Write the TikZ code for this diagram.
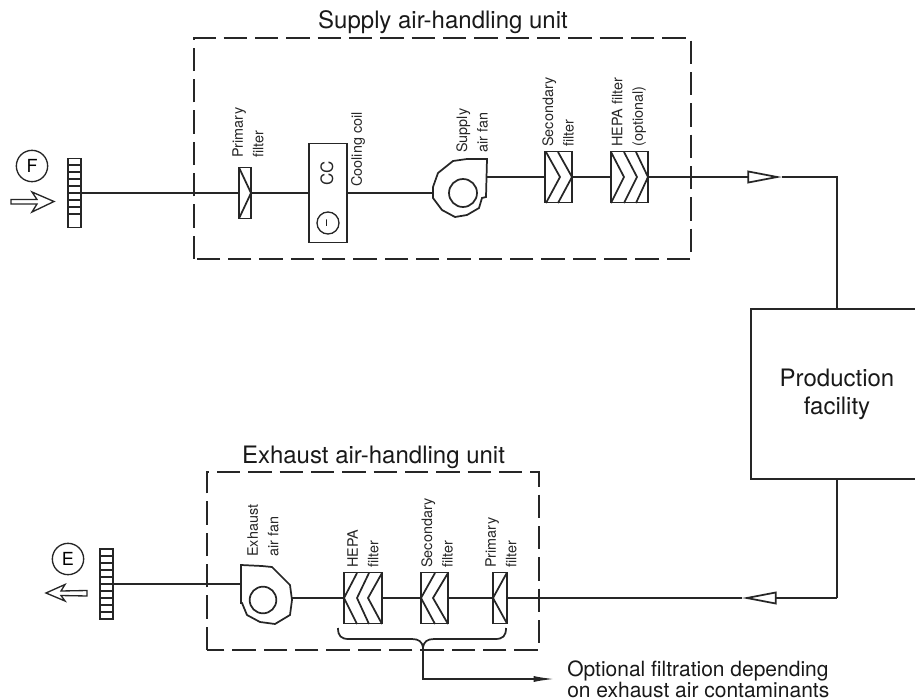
\documentclass[tikz,border=0pt]{standalone}
\usepackage{fontspec}
\setmainfont{TeX Gyre Heros}
\usetikzlibrary{arrows.meta}
\begin{document}
\begin{tikzpicture}[
    x=0.75pt,y=-0.75pt,
    ductLine/.style={draw=black!85,line width=1.3pt},
    ahuFrame/.style={rectangle,inner sep=0pt,outer sep=0pt},
    ahuLine/.style={draw=black!85,line width=1.2pt,dash pattern=on 17.5pt off 6pt},
    filterBox/.style={rectangle,draw=black!85,line width=1.4pt,inner sep=0pt,outer sep=0pt,minimum height=38.25pt},
    portCircle/.style={circle,draw=black!85,line width=1pt,inner sep=0pt,minimum size=23.5pt,font=\fontsize{13.5pt}{15pt}\selectfont},
    smallLabel/.style={rotate=90,anchor=west,align=left,inner sep=0pt,font=\fontsize{10.8pt}{15.4pt}\selectfont,text=black!85},
    bigLabel/.style={anchor=base,inner sep=0pt,font=\fontsize{18pt}{21pt}\selectfont,text=black!90},
    openTip/.style={-{Triangle[open,fill=white,length=26pt,width=9.5pt]}},
]
\useasboundingbox (0,0) rectangle (915,700);
% === supply (top) ===
\node[ahuFrame,minimum width=372.75pt,minimum height=165.75pt] (SAHU) at (442.5,148.5) {};
\draw[ahuLine] (SAHU.south west) -- (SAHU.north west) -- (SAHU.north east) -- (SAHU.south east) -- cycle;
\node[bigLabel] (STITLE) at (443,28) {Supply air-handling unit};
\node[portCircle] (F) at (32,166) {F};
\node[filterBox,minimum width=9.75pt,minimum height=51.75pt] (SGRILLE) at (74.5,193) {};
\foreach \y in {165,172,...,220} \draw[ductLine,line width=1.1pt] (68,\y) -- (82,\y);
\draw[ductLine,line width=1pt] (11,199.5) -- (37,199.5) -- (32,192) -- (54,201.5) -- (32,212) -- (37,204) -- (11,204) -- cycle;
\node[filterBox,minimum width=9pt] (SPF) at (245,193) {};
\draw[ductLine] (SPF.north west) -- (SPF.east) -- (SPF.south west);
\node[smallLabel] (SPFL) at (248,158) {Primary\\filter};
\node[filterBox,minimum width=28.5pt,minimum height=74.25pt] (SCC) at (328,193) {};
\node[rotate=90,inner sep=0pt,font=\fontsize{12.75pt}{15pt}\selectfont,text=black!85] (SCCL) at (327,173) {CC};
\node[circle,draw=black!85,line width=1pt,rotate=90,inner sep=0pt,minimum size=16.5pt,font=\fontsize{9pt}{10pt}\selectfont] (SCCM) at (328,223) {--};
\node[smallLabel] (SCCT) at (358,187) {Cooling coil};
\coordinate (SFIN) at (433,193);
\coordinate (SFOUT) at (487,177);
\draw[ductLine] (487,159) -- (467,159) -- (453,161) -- (438,173) -- (433,187) -- (433,198) -- (442,210) -- (455,217) -- (467,215) -- (479,208) -- (482,198) -- (486,197) -- cycle;
\node[circle,draw=black!85,line width=1.3pt,inner sep=0pt,minimum size=21pt] (SFAN) at (463,193) {};
\node[smallLabel] (SFANL) at (472,153) {Supply\\air fan};
\node[filterBox,minimum width=20.25pt] (SSF) at (558.5,177) {};
\draw[ductLine] (546,152) -- (560,177) -- (546,203);
\draw[ductLine] (558,152) -- (SSF.east) -- (558,203);
\node[smallLabel] (SSFL) at (558,147) {Secondary\\filter};
\node[filterBox,minimum width=27.75pt] (SHF) at (629.5,177) {};
\draw[ductLine] (611,152) -- (624,177) -- (611,203);
\draw[ductLine] (624,152) -- (637,177) -- (624,203);
\draw[ductLine] (636,152) -- (SHF.east) -- (636,203);
\node[smallLabel] (SHFL) at (629,147) {HEPA filter\\(optional)};
\coordinate (SARROW) at (782,177);
\coordinate (SCORNER) at (837,177);
\node[filterBox,minimum width=129pt,minimum height=127.5pt,align=center,font=\fontsize{18pt}{21pt}\selectfont,text=black!90,line width=1.2pt] (PROD) at (837,394) {Production\\facility};
\draw[ductLine] (SGRILLE.east) -- (SPF.west);
\draw[ductLine] (SPF.east) -- (SCC.west);
\draw[ductLine] (SCC.east) -- (SFIN);
\draw[ductLine] (SFOUT) -- (SSF.west);
\draw[ductLine] (SSF.east) -- (SHF.west);
\draw[ductLine,openTip] (SHF.east) -- (SARROW);
\draw[ductLine] (SARROW) -- (SCORNER) -- (PROD.north);
% === exhaust (bottom) ===
\node[ahuFrame,minimum width=249pt,minimum height=133.5pt] (EAHU) at (373,561) {};
\draw[ahuLine] (EAHU.south west) -- (EAHU.north west) -- (EAHU.north east) -- (EAHU.south east) -- cycle;
\node[bigLabel] (ETITLE) at (373.5,463) {Exhaust air-handling unit};
\node[portCircle] (E) at (68,559) {E};
\node[filterBox,minimum width=9.75pt,minimum height=52.5pt] (EGRILLE) at (106.5,584) {};
\foreach \y in {556,563,...,612} \draw[ductLine,line width=1.1pt] (100,\y) -- (114,\y);
\draw[ductLine,line width=1pt] (87,590.5) -- (61,591) -- (65,584.5) -- (46,593) -- (65,601) -- (61,595.5) -- (87,596) -- cycle;
\coordinate (EFOUT) at (241,584);
\coordinate (EFIN) at (292,598);
\draw[ductLine] (241,565) -- (262,566) -- (272,567) -- (290,585) -- (292,600) -- (290,615) -- (275,624) -- (260,622) -- (247,615) -- (242,603) -- (241,603) -- cycle;
\node[circle,draw=black!85,line width=1.3pt,inner sep=0pt,minimum size=20pt] (EFAN) at (263,600) {};
\node[smallLabel] (EFANL) at (263,557) {Exhaust\\air fan};
\node[filterBox,minimum width=28.5pt] (EHF) at (363,598) {};
\draw[ductLine] (357,573) -- (EHF.west) -- (357,624);
\draw[ductLine] (369,573) -- (357,598) -- (369,624);
\draw[ductLine] (382,573) -- (368,598) -- (382,624);
\node[smallLabel] (EHFL) at (363,568) {HEPA\\filter};
\node[filterBox,minimum width=20.25pt] (ESF) at (434.5,598) {};
\draw[ductLine] (435,573) -- (ESF.west) -- (435,624);
\draw[ductLine] (448,573) -- (433,598) -- (448,624);
\node[smallLabel] (ESFL) at (437,568) {Secondary\\filter};
\node[filterBox,minimum width=10.5pt] (EPF) at (500,598) {};
\draw[ductLine] (EPF.north east) -- (EPF.west) -- (EPF.south east);
\node[smallLabel] (EPFL) at (501,568) {Primary\\filter};
\coordinate (EARROW) at (742,598);
\coordinate (ECORNER) at (837,598);
\draw[ductLine,openTip] (ECORNER) -- (EARROW);
\draw[ductLine] (EARROW) -- (EPF.east);
\draw[ductLine] (PROD.south) -- (ECORNER);
\draw[ductLine] (ESF.east) -- (EPF.west);
\draw[ductLine] (EHF.east) -- (ESF.west);
\draw[ductLine] (EFIN) -- (EHF.west);
\draw[ductLine] (EFOUT) -- (EGRILLE.east);
% === optional filtration ===
\coordinate (BRACE) at (423,647);
\coordinate (NOTEARROW) at (555,679);
\draw[ductLine] (338,628) .. controls (338,636) and (341,639) .. (349,639) -- (412,639) .. controls (419,639) and (422,642) .. (BRACE) .. controls (424,642) and (427,639) .. (434,639) -- (495,639) .. controls (503,639) and (506,636) .. (506,628);
\draw[ductLine,-{Latex[length=16pt,width=4.5pt]}] (BRACE) |- (NOTEARROW);
\node[anchor=west,align=left,inner sep=0pt,font=\fontsize{15.75pt}{15.75pt}\selectfont,text=black!90] (NOTE) at (567,679) {Optional filtration depending\\on exhaust air contaminants};
\end{tikzpicture}
\end{document}
